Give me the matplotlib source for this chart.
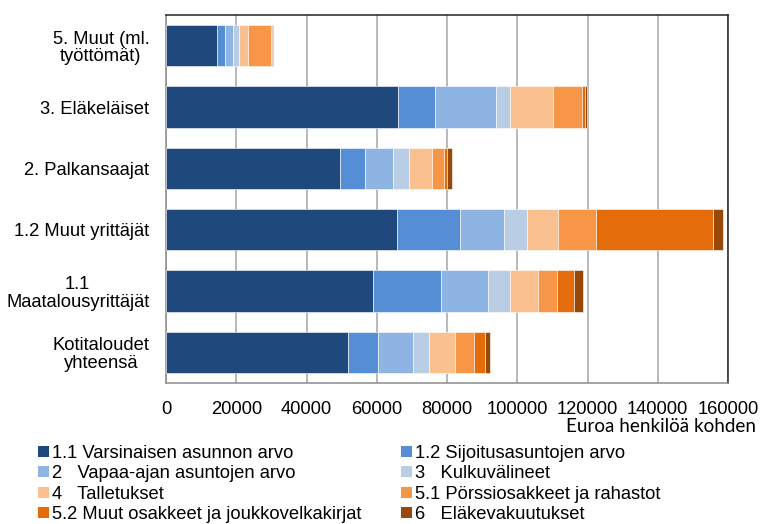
import matplotlib

matplotlib.use('Agg')

import matplotlib.pyplot as plt
import numpy as np
from matplotlib.patches import Patch

plt.rcParams['font.family'] = ['Liberation Sans', 'DejaVu Sans']

# kotitalousryhmät (alhaalta ylös)
groups = ['Kotitaloudet\nyhteensä', '1.1\nMaatalousyrittäjät', '1.2 Muut yrittäjät',
          '2. Palkansaajat', '3. Eläkeläiset', '5. Muut (ml.\ntyöttömät)']

# varallisuuslajit, euroa henkilöä kohden
asunto = [51800, 58900, 65700, 49500, 66000, 14500]
sijoitusasunnot = [8500, 19300, 18000, 7100, 10500, 2300]
vapaa_ajan = [10000, 13400, 12400, 8000, 17500, 2200]
kulkuvalineet = [4500, 6300, 6800, 4600, 3800, 1900]
talletukset = [7500, 8000, 8600, 6400, 12400, 2400]
porssiosakkeet = [5400, 5400, 11000, 3500, 8300, 6600]
muut_osakkeet = [3100, 4800, 33300, 850, 800, 200]
elakevakuutukset = [1300, 2600, 2800, 1500, 650, 400]

series = [asunto, sijoitusasunnot, vapaa_ajan, kulkuvalineet,
          talletukset, porssiosakkeet, muut_osakkeet, elakevakuutukset]
labels = ['1.1 Varsinaisen asunnon arvo', '1.2 Sijoitusasuntojen arvo',
          '2   Vapaa-ajan asuntojen arvo', '3   Kulkuvälineet',
          '4   Talletukset', '5.1 Pörssiosakkeet ja rahastot',
          '5.2 Muut osakkeet ja joukkovelkakirjat', '6   Eläkevakuutukset']
colors = ['#1F497D', '#558ED5', '#8EB4E3', '#B9CDE5',
          '#FAC090', '#F79646', '#E46C0A', '#984807']

fs = 13.2

fig = plt.figure(figsize=(7.6, 5.24), dpi=100)
ax = fig.add_axes([166 / 760, 1 - 383 / 524, 562 / 760, 368 / 524])

y = np.arange(len(groups))
left = np.zeros(len(groups))
for vals, c in zip(series, colors):
    ax.barh(y, vals, left=left, height=0.67, color=c,
            edgecolor='white', linewidth=0.4, zorder=3)
    left += np.array(vals)

ax.set_xlim(0, 160000)
ax.set_ylim(-0.5, len(groups) - 0.5)
ax.set_xticks(np.arange(0, 160001, 20000))
ax.set_yticks(y)
ax.set_yticklabels(groups, multialignment='center', linespacing=1.05)
ax.tick_params(axis='both', length=0, labelsize=fs)
ax.tick_params(axis='y', pad=12)
ax.tick_params(axis='x', pad=13)
ax.grid(axis='x', color='#a6a6a6', linewidth=1.1, zorder=0)

ax.spines['left'].set_color('#8c8c8c')
ax.spines['bottom'].set_color('#8c8c8c')
ax.spines['top'].set_color('#222222')
ax.spines['right'].set_color('#222222')
for s in ax.spines.values():
    s.set_linewidth(1.1)

fig.text(756 / 760, 1 - 427 / 524, 'Euroa henkilöä kohden', ha='right', va='center',
         fontsize=13.6, family=['Lato', 'DejaVu Sans'])

# legenda kahdessa sarakkeessa, täyttö sarakkeittain
order = [0, 2, 4, 6, 1, 3, 5, 7]
handles = [Patch(facecolor=colors[i], edgecolor='none') for i in order]
fig.legend(handles, [labels[i] for i in order], ncol=2, loc='upper left',
           bbox_to_anchor=(38 / 760, 1 - 445 / 524), frameon=False, fontsize=fs,
           handlelength=0.6, handleheight=0.55, handletextpad=0.15,
           columnspacing=2.2, labelspacing=0.18, borderaxespad=0, borderpad=0)

fig.savefig('out.png', dpi=100)
